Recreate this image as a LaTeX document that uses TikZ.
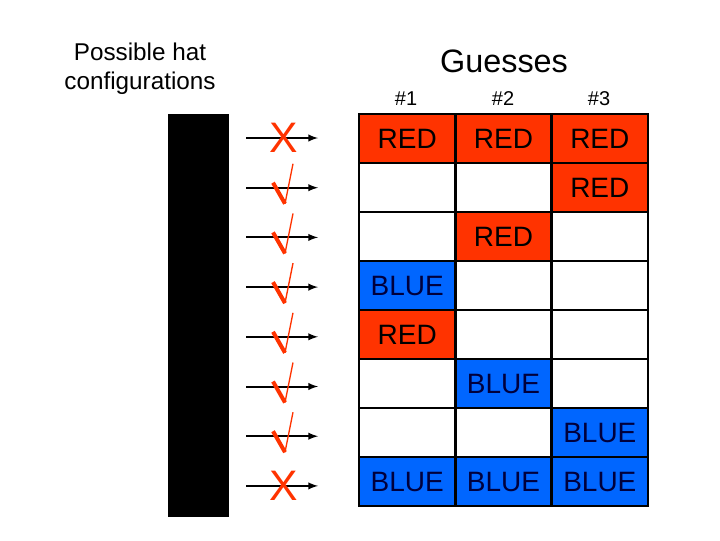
\documentclass[tikz,border=0pt]{standalone}
\usepackage{fontspec}
\setmainfont{Liberation Sans}
\usetikzlibrary{calc}
\definecolor{hatred}{RGB}{255,51,0}
\definecolor{hatblue}{RGB}{0,102,255}
\definecolor{navytext}{RGB}{0,0,60}
\tikzset{>=latex}
\tikzset{
  gridline/.style={line width=2.2pt},
  celltext/.style={font=\fontsize{21}{24}\selectfont, inner sep=0pt},
  headtext/.style={font=\fontsize{15}{18}\selectfont, inner sep=0pt},
  hatarrow/.style={->, line width=1.5pt},
  crossmark/.style={text=hatred, font=\fontsize{32}{35}\selectfont, inner sep=0pt},
}

\begin{document}
\begin{tikzpicture}[x=0.75pt, y=-0.75pt]
	\useasboundingbox (0,0) rectangle (720,540);
	% titles
	\node [align=center, font=\fontsize{18.2}{21.75}\selectfont] (configs) at (140,69) {Possible hat\\configurations};
	\node [font=\fontsize{24.3}{27}\selectfont] (guesses) at (504,61) {Guesses};
	\node [headtext] (h1) at (406,99) {\#1};
	\node [headtext] (h2) at (503,99) {\#2};
	\node [headtext] (h3) at (599,99) {\#3};
	% the hats
	\fill (168,114) rectangle (229,517);
	% guesses table
	\foreach \r/\c/\col/\txtcol/\txt in {1/1/hatred/black/RED, 1/2/hatred/black/RED, 1/3/hatred/black/RED,
		2/3/hatred/black/RED, 3/2/hatred/black/RED, 4/1/hatblue/navytext/BLUE, 5/1/hatred/black/RED,
		6/2/hatblue/navytext/BLUE, 7/3/hatblue/navytext/BLUE,
		8/1/hatblue/navytext/BLUE, 8/2/hatblue/navytext/BLUE, 8/3/hatblue/navytext/BLUE} {
		\fill [\col] ({359+96.33*(\c-1)},{114+49*(\r-1)}) rectangle ({359+96.33*\c},{114+49*\r});
		\node [celltext, text=\txtcol] (g-\r-\c) at ({359+96.33*(\c-0.5)},{114+49*(\r-0.5)}) {\txt};
	}
	\foreach \c in {1,2}
		\draw [gridline] ({359+96.33*\c},114) -- ({359+96.33*\c},506);
	\foreach \r in {1,...,7}
		\draw [gridline] (359,{114+49*\r}) -- (648,{114+49*\r});
	\draw [gridline] (359,114) rectangle (648,506);
	% arrows and marks
	\foreach \i in {0,...,7} {
		\coordinate (a\i) at (246,{138+49.7*\i});
		\coordinate (b\i) at (318,{138+49.7*\i});
		\draw [hatarrow] (a\i) -- (b\i);
	}
	\node [crossmark] (x0) at (284,138) {X};
	\node [crossmark] (x7) at (284,486) {X};
	\foreach \i in {1,...,6} {
		\draw [hatred, line width=3pt] ($(a\i)+(27,-5)$) -- ($(a\i)+(39,16)$);
		\draw [hatred, line width=1pt] ($(a\i)+(39,16)$) -- ($(a\i)+(47,-24)$);
	}
\end{tikzpicture}
\end{document}
